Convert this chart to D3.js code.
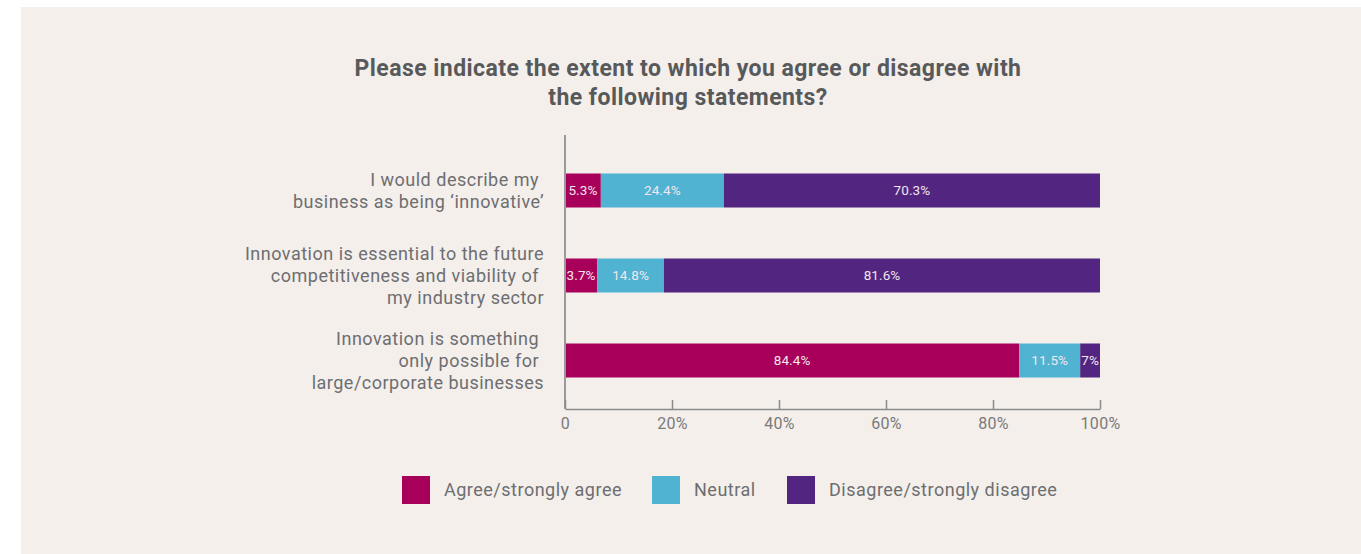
<!DOCTYPE html>
<meta charset="utf-8">
<script src="https://cdn.jsdelivr.net/npm/d3@7"></script>
<style>
  body { margin: 0; background: #fff; }
  text { font-family: Roboto, "Noto Sans", sans-serif; }
</style>
<body></body>
<script>

    // statements, each split into the lines shown in the chart
    var categories = [
      ["I would describe my ", "business as being \u2018innovative\u2019"],
      ["Innovation is essential to the future", "competitiveness and viability of ", "my industry sector"],
      ["Innovation is something ", "only possible for ", "large/corporate businesses"]
    ];
    var seriesNames = ["Agree/strongly agree", "Neutral", "Disagree/strongly disagree"];
    var colors = ["#a8005a", "#4fb3d1", "#512580"];

    // segment widths as drawn (percent)
    var agree    = [6.7, 6.0, 84.9];
    var neutral  = [23.0, 12.5, 11.4];
    var disagree = [70.3, 81.5, 3.7];

    // printed labels on the segments
    var agreeLabels    = ["5.3%", "3.7%", "84.4%"];
    var neutralLabels  = ["24.4%", "14.8%", "11.5%"];
    var disagreeLabels = ["70.3%", "81.6%", "7%"];

    var tickValues = [0, 20, 40, 60, 80, 100];
    var tickLabels = ["0", "20%", "40%", "60%", "80%", "100%"];

    var W = 1361, H = 554;

    var svg = d3.select("body").append("svg")
        .attr("width", W)
        .attr("height", H);

    svg.append("rect")
        .attr("x", 21).attr("y", 7)
        .attr("width", W - 21).attr("height", H - 7)
        .attr("fill", "#f4efeb");

    svg.append("text")
        .attr("x", 688)
        .attr("text-anchor", "middle")
        .attr("font-size", 23)
        .attr("font-weight", "bold")
        .attr("letter-spacing", 0.45)
        .attr("fill", "#58595b")
        .selectAll("tspan")
        .data(["Please indicate the extent to which you agree or disagree with", "the following statements?"])
        .enter().append("tspan")
        .attr("x", 688)
        .attr("y", function(d, i) { return 76 + i * 29; })
        .text(function(d) { return d; });

    var x = d3.scaleLinear()
        .domain([0, 100])
        .range([565, 1100]);

    var y = d3.scaleBand()
        .domain(d3.range(categories.length))
        .range([148, 403])
        .paddingInner(0.6)
        .paddingOuter(0.3);

    var rows = categories.map(function(c, i) {
      return {
        i: i,
        segs: [
          { v: agree[i], label: agreeLabels[i], s: 0 },
          { v: neutral[i], label: neutralLabels[i], s: 1 },
          { v: disagree[i], label: disagreeLabels[i], s: 2 }
        ]
      };
    });
    rows.forEach(function(r) {
      var acc = 0;
      r.segs.forEach(function(s) { s.x0 = acc; acc += s.v; s.x1 = acc; });
    });

    var rowG = svg.selectAll(".row")
        .data(rows)
        .enter().append("g")
        .attr("class", "row")
        .attr("transform", function(d) { return "translate(0," + y(d.i) + ")"; });

    rowG.selectAll("rect")
        .data(function(d) { return d.segs; })
        .enter().append("rect")
        .attr("x", function(d) { return x(d.x0); })
        .attr("width", function(d) { return x(d.x1) - x(d.x0); })
        .attr("height", y.bandwidth())
        .attr("fill", function(d) { return colors[d.s]; });

    rowG.selectAll(".lbl")
        .data(function(d) { return d.segs; })
        .enter().append("text")
        .attr("class", "lbl")
        .attr("x", function(d) { return (x(d.x0) + x(d.x1)) / 2; })
        .attr("y", y.bandwidth() / 2)
        .attr("dy", "0.35em")
        .attr("text-anchor", "middle")
        .attr("font-size", 13.5)
        .attr("letter-spacing", 0.1)
        .attr("fill", "#f3e6ee")
        .text(function(d) { return d.label; });

    // category labels
    rowG.append("text")
        .attr("text-anchor", "end")
        .attr("font-size", 18)
        .attr("letter-spacing", 0.5)
        .attr("fill", "#6d6e71")
        .each(function(d) {
          var lines = categories[d.i];
          var t = d3.select(this);
          lines.forEach(function(l, k) {
            t.append("tspan")
              .attr("x", 544)
              .attr("y", y.bandwidth() / 2 + (k - (lines.length - 1) / 2) * 22)
              .attr("dy", "0.35em")
              .style("white-space", "pre")
              .text(l);
          });
        });

    // y axis line
    svg.append("line")
        .attr("x1", 565).attr("x2", 565)
        .attr("y1", 135).attr("y2", 409)
        .attr("stroke", "#9a9a9a")
        .attr("stroke-width", 2);

    var xAxis = svg.append("g")
        .attr("transform", "translate(0,409)")
        .call(d3.axisBottom(x)
            .tickValues(tickValues)
            .tickFormat(function(d, i) { return tickLabels[i]; })
            .tickSizeInner(-9)
            .tickSizeOuter(0)
            .tickPadding(9));

    xAxis.select(".domain").attr("stroke", "#8a8a8a").attr("stroke-width", 1.5);
    xAxis.selectAll(".tick line").attr("stroke", "#8a8a8a").attr("stroke-width", 1.5);
    xAxis.selectAll(".tick text")
        .attr("font-family", "Roboto, sans-serif")
        .attr("font-size", 16)
        .attr("letter-spacing", 0.3)
        .attr("fill", "#7a7a7a");

    // legend
    var legendX = [402, 652, 787];
    var leg = svg.selectAll(".leg")
        .data(seriesNames)
        .enter().append("g")
        .attr("class", "leg")
        .attr("transform", function(d, i) { return "translate(" + legendX[i] + ",476)"; });

    leg.append("rect")
        .attr("width", 28).attr("height", 28)
        .attr("fill", function(d, i) { return colors[i]; });

    leg.append("text")
        .attr("x", 42)
        .attr("y", 14)
        .attr("dy", "0.35em")
        .attr("font-size", 18)
        .attr("letter-spacing", 0.5)
        .attr("fill", "#6d6e71")
        .text(function(d) { return d; });
</script>
